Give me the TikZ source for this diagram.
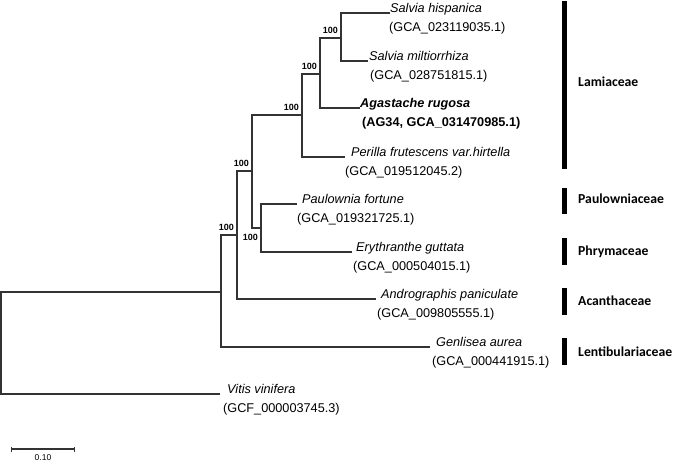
\documentclass[tikz,border=0pt]{standalone}
\usepackage{fontspec}
\setmainfont{Liberation Sans}
\newfontfamily\famfont{Carlito}
\begin{document}
\begin{tikzpicture}[x=1pt,y=-1pt,
  branch/.style={line width=1.5pt, draw=black!80},
  sp/.style={anchor=base west, inner sep=0pt, font=\fontsize{12.7}{15}\selectfont\itshape},
  acc/.style={anchor=base west, inner sep=0pt, font=\fontsize{12.7}{15}\selectfont},
  boot/.style={anchor=south east, inner sep=0pt, font=\fontsize{9}{10}\selectfont\bfseries},
  fambar/.style={fill=black, draw=none},
  fam/.style={anchor=base west, inner sep=0pt, font=\fontsize{13.7}{15}\selectfont\famfont\bfseries}]
\useasboundingbox (0,0) rectangle (675,462);
% internal nodes
\coordinate (R) at (1,343);
\coordinate (A) at (221,292);
\coordinate (B) at (237,235);
\coordinate (C) at (252,171);
\coordinate (D) at (302,115);
\coordinate (F) at (320,74);
\coordinate (G) at (341,38);
\coordinate (E) at (261,228);
% leaf tips
\coordinate (sh) at (390,13);
\coordinate (sm) at (368,61);
\coordinate (ag) at (360,108);
\coordinate (pe) at (345,157);
\coordinate (pa) at (297,204);
\coordinate (er) at (352,252);
\coordinate (an) at (376,299);
\coordinate (ge) at (430,347);
\coordinate (vi) at (220,394);
% branches
\draw[branch] (R) |- (A);
\draw[branch] (R) |- (vi);
\draw[branch] (A) |- (B);
\draw[branch] (A) |- (ge);
\draw[branch] (B) |- (C);
\draw[branch] (B) |- (an);
\draw[branch] (C) |- (D);
\draw[branch] (C) |- (E);
\draw[branch] (D) |- (F);
\draw[branch] (D) |- (pe);
\draw[branch] (F) |- (G);
\draw[branch] (F) |- (ag);
\draw[branch] (G) |- (sh);
\draw[branch] (G) |- (sm);
\draw[branch] (E) |- (pa);
\draw[branch] (E) |- (er);
% bootstrap values
\node[boot] (bG) at ([xshift=-3pt,yshift=4.5pt]G) {100};
\node[boot] (bF) at ([xshift=-3pt,yshift=4.5pt]F) {100};
\node[boot] (bD) at ([xshift=-3pt,yshift=4.5pt]D) {100};
\node[boot] (bC) at ([xshift=-3pt,yshift=4.5pt]C) {100};
\node[boot] (bB) at ([xshift=-3pt,yshift=4.5pt]B) {100};
\node[boot, anchor=north east] (bE) at ([xshift=-3pt,yshift=-6pt]E) {100};
% leaf labels
\node[sp] (sh1) at ([xshift=0pt]sh) {Salvia hispanica};
\node[acc] (sh2) at ([xshift=-1pt,yshift=-18.5pt]sh) {(GCA\_023119035.1)};
\node[sp] (sm1) at ([xshift=1pt]sm) {Salvia miltiorrhiza};
\node[acc] (sm2) at ([xshift=2pt,yshift=-18.5pt]sm) {(GCA\_028751815.1)};
\node[sp, font=\fontsize{12.7}{15}\selectfont\bfseries\itshape] (ag1) at ([xshift=0pt]ag) {Agastache rugosa};
\node[acc, font=\fontsize{12.7}{15}\selectfont\bfseries] (ag2) at ([xshift=2pt,yshift=-18.5pt]ag) {(AG34, GCA\_031470985.1)};
\node[sp] (pe1) at ([xshift=6pt]pe) {Perilla frutescens var.hirtella};
\node[acc] (pe2) at ([xshift=0pt,yshift=-18.5pt]pe) {(GCA\_019512045.2)};
\node[sp] (pa1) at ([xshift=5pt]pa) {Paulownia fortune};
\node[acc] (pa2) at ([xshift=0pt,yshift=-18.5pt]pa) {(GCA\_019321725.1)};
\node[sp] (er1) at ([xshift=4pt]er) {Erythranthe guttata};
\node[acc] (er2) at ([xshift=1pt,yshift=-18.5pt]er) {(GCA\_000504015.1)};
\node[sp] (an1) at ([xshift=5pt]an) {Andrographis paniculate};
\node[acc] (an2) at ([xshift=1pt,yshift=-18.5pt]an) {(GCA\_009805555.1)};
\node[sp] (ge1) at ([xshift=6pt]ge) {Genlisea aurea};
\node[acc] (ge2) at ([xshift=2pt,yshift=-18.5pt]ge) {(GCA\_000441915.1)};
\node[sp] (vi1) at ([xshift=7pt]vi) {Vitis vinifera};
\node[acc] (vi2) at ([xshift=3pt,yshift=-18.5pt]vi) {(GCF\_000003745.3)};
% family bars and labels
\fill[fambar] (562,1) rectangle (567,169);
\fill[fambar] (562,188) rectangle (567,214);
\fill[fambar] (562,238) rectangle (567,265);
\fill[fambar] (562,288) rectangle (567,315);
\fill[fambar] (562,338) rectangle (567,365);
\node[fam] (f1) at (578,87) {Lamiaceae};
\node[fam] (f2) at (578,204) {Paulowniaceae};
\node[fam] (f3) at (578,256) {Phrymaceae};
\node[fam] (f4) at (578,306) {Acanthaceae};
\node[fam] (f5) at (578,356) {Lentibulariaceae};
% scale bar
\coordinate (s1) at (11,449);
\coordinate (s2) at (74,449);
\draw[line width=1.5pt, draw=black!80] (s1) -- (s2);
\draw[line width=1pt, draw=black!80] ([yshift=2.5pt]s1) -- ([yshift=-2.5pt]s1);
\draw[line width=1pt, draw=black!80] ([yshift=2.5pt]s2) -- ([yshift=-2.5pt]s2);
\node[anchor=base, inner sep=0pt, font=\fontsize{8.5}{10}\selectfont] (sl) at (43,460) {0.10};
\end{tikzpicture}
\end{document}
